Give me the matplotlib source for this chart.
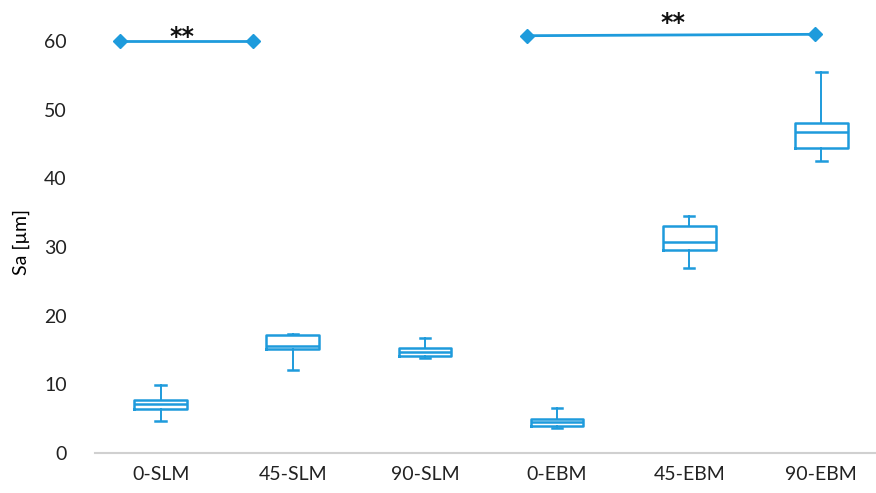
import matplotlib
matplotlib.use("Agg")
import matplotlib.pyplot as plt

plt.rcParams['font.family'] = ['Lato', 'DejaVu Sans']

categories = ["0-SLM", "45-SLM", "90-SLM", "0-EBM", "45-EBM", "90-EBM"]
whisker_low = [4.65, 12.1, 13.85, 3.6, 27.0, 42.6]
q1 = [6.4, 15.15, 14.2, 4.0, 29.6, 44.4]
median = [7.1, 15.6, 14.7, 4.5, 30.8, 46.8]
q3 = [7.7, 17.25, 15.3, 4.9, 33.1, 48.1]
whisker_high = [9.9, 17.3, 16.7, 6.5, 34.5, 55.5]

# significance brackets: (x positions, y positions, label)
sig_left_x = [-0.31, 0.70]
sig_left_y = [60.0, 60.0]
sig_right_x = [2.77, 4.95]
sig_right_y = [60.8, 61.0]
sig_label = "**"

blue = "#1E9BDC"

fig = plt.figure(figsize=(8.76, 4.93), dpi=100)
ax = fig.add_axes([0.108, 0.081, 0.905, 0.919])

stats = []
for i, name in enumerate(categories):
    stats.append(dict(label=name, whislo=whisker_low[i], q1=q1[i], med=median[i],
                      q3=q3[i], whishi=whisker_high[i], fliers=[]))

ax.bxp(stats, positions=range(len(categories)), widths=0.4, showfliers=False,
       boxprops=dict(color=blue, linewidth=1.8),
       medianprops=dict(color=blue, linewidth=1.8),
       whiskerprops=dict(color=blue, linewidth=1.4),
       capprops=dict(color=blue, linewidth=1.8),
       capwidths=0.08)

ax.plot(sig_left_x, sig_left_y, color=blue, linewidth=2, marker="D", markersize=7)
ax.plot(sig_right_x, sig_right_y, color=blue, linewidth=2, marker="D", markersize=7)
ax.text(0.16, 60.6, sig_label, ha="center", va="center", fontsize=17,
        family="DejaVu Sans", fontweight="bold", color="#111111")
ax.text(3.88, 62.7, sig_label, ha="center", va="center", fontsize=17,
        family="DejaVu Sans", fontweight="bold", color="#111111")

ax.set_xlim(-0.5, 5.5)
ax.set_ylim(0, 66)
ax.set_yticks(range(0, 61, 10))
ax.set_xticks(range(len(categories)))
ax.set_xticklabels(categories)
ax.tick_params(axis="both", length=0, labelsize=14, colors="#222222")
ax.tick_params(axis="x", pad=9)
ax.tick_params(axis="y", pad=20)
ax.set_ylabel("Sa [µm]", fontsize=14)
ax.yaxis.set_label_coords(-0.081, 0.465)

for side in ["top", "right", "left"]:
    ax.spines[side].set_visible(False)
ax.spines["bottom"].set_color("#D0D0D0")
ax.spines["bottom"].set_linewidth(1.5)

fig.savefig("out.png", dpi=100)
